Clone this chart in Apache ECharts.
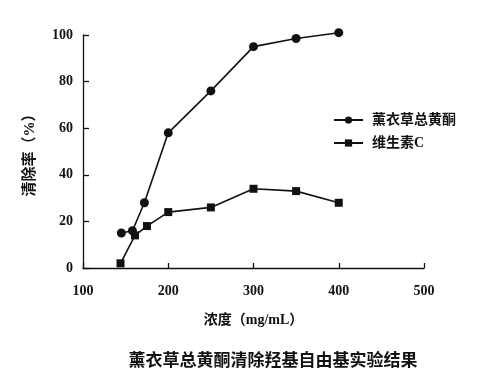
<!DOCTYPE html>
<html><head><meta charset="utf-8">
<script src="https://cdn.jsdelivr.net/npm/echarts@6/dist/echarts.min.js"></script>
<style>html,body{margin:0;padding:0;background:#fff}#c{width:491px;height:383px}</style>
</head><body><div id="c"></div>
<script>
var seriesNames = ['薰衣草总黄酮', '维生素C'];
var flavoneX = [145, 158, 172, 200, 250, 300, 350, 400];
var flavoneY = [15, 16, 28, 58, 76, 95, 98.5, 101];
var vitcX = [144, 161, 175, 200, 250, 300, 350, 400];
var vitcY = [2, 14, 18, 24, 26, 34, 33, 28];
var xTicks = [100, 200, 300, 400, 500];
var yTicks = [0, 20, 40, 60, 80, 100];
var titleText = '薰衣草总黄酮清除羟基自由基实验结果';
var xName = '浓度（mg/mL）';
var yName = '清除率（%）';

function pairs(xs, ys){ return xs.map(function(x,i){ return [x, ys[i]]; }); }
var FF = '"Liberation Serif", "Noto Sans CJK SC", serif';
var chart = echarts.init(document.getElementById('c'), null, {renderer:'canvas'});
chart.setOption({
  animation: false,
  backgroundColor: '#fff',
  title: {
    text: titleText, left: 268, textAlign: 'center', top: 346,
    textStyle: {fontFamily: '"Noto Sans CJK SC", sans-serif', fontWeight: 'bold', fontSize: 17, color: '#111'}
  },
  legend: {
    orient: 'vertical', left: 328, top: 108, itemGap: 9,
    itemWidth: 29, itemHeight: 9,
    data: seriesNames,
    textStyle: {fontFamily: FF, fontWeight: 'bold', fontSize: 14, color: '#111', padding: [0,0,0,4]}
  },
  grid: {left: 83, right: 67, top: 35, bottom: 115, containLabel: false},
  xAxis: {
    type: 'value', min: 100, max: 500, interval: 100,
    name: xName, nameLocation: 'middle', nameGap: 45,
    nameTextStyle: {fontFamily: FF, fontWeight: 'bold', fontSize: 14, color: '#111'},
    axisLine: {lineStyle: {color: '#111', width: 1.3}},
    axisTick: {inside: true, length: 5, lineStyle: {color: '#111', width: 1.3}},
    axisLabel: {fontFamily: FF, fontWeight: 'bold', fontSize: 14, color: '#111', margin: 16,
      formatter: function(v){ return xTicks.indexOf(v) >= 0 ? String(v) : ''; }},
    splitLine: {show: false}
  },
  yAxis: {
    type: 'value', min: 0, max: 100, interval: 20,
    name: yName, nameLocation: 'middle', nameGap: 45, nameRotate: 90,
    nameTextStyle: {fontFamily: FF, fontWeight: 'bold', fontSize: 15, color: '#111'},
    axisLine: {show: true, lineStyle: {color: '#111', width: 1.3}},
    axisTick: {show: true, inside: true, length: 6, lineStyle: {color: '#111', width: 1.3}},
    axisLabel: {fontFamily: FF, fontWeight: 'bold', fontSize: 14, color: '#111', margin: 10,
      formatter: function(v){ return yTicks.indexOf(v) >= 0 ? String(v) : ''; }},
    splitLine: {show: false}
  },
  series: [
    {name: seriesNames[0], type: 'line', data: pairs(flavoneX, flavoneY), clip: false,
     symbol: 'circle', symbolSize: 9, lineStyle: {color: '#111', width: 1.6},
     itemStyle: {color: '#111'}},
    {name: seriesNames[1], type: 'line', data: pairs(vitcX, vitcY), clip: false,
     symbol: 'rect', symbolSize: 8, lineStyle: {color: '#111', width: 1.6},
     itemStyle: {color: '#111'}}
  ]
});
</script></body></html>
